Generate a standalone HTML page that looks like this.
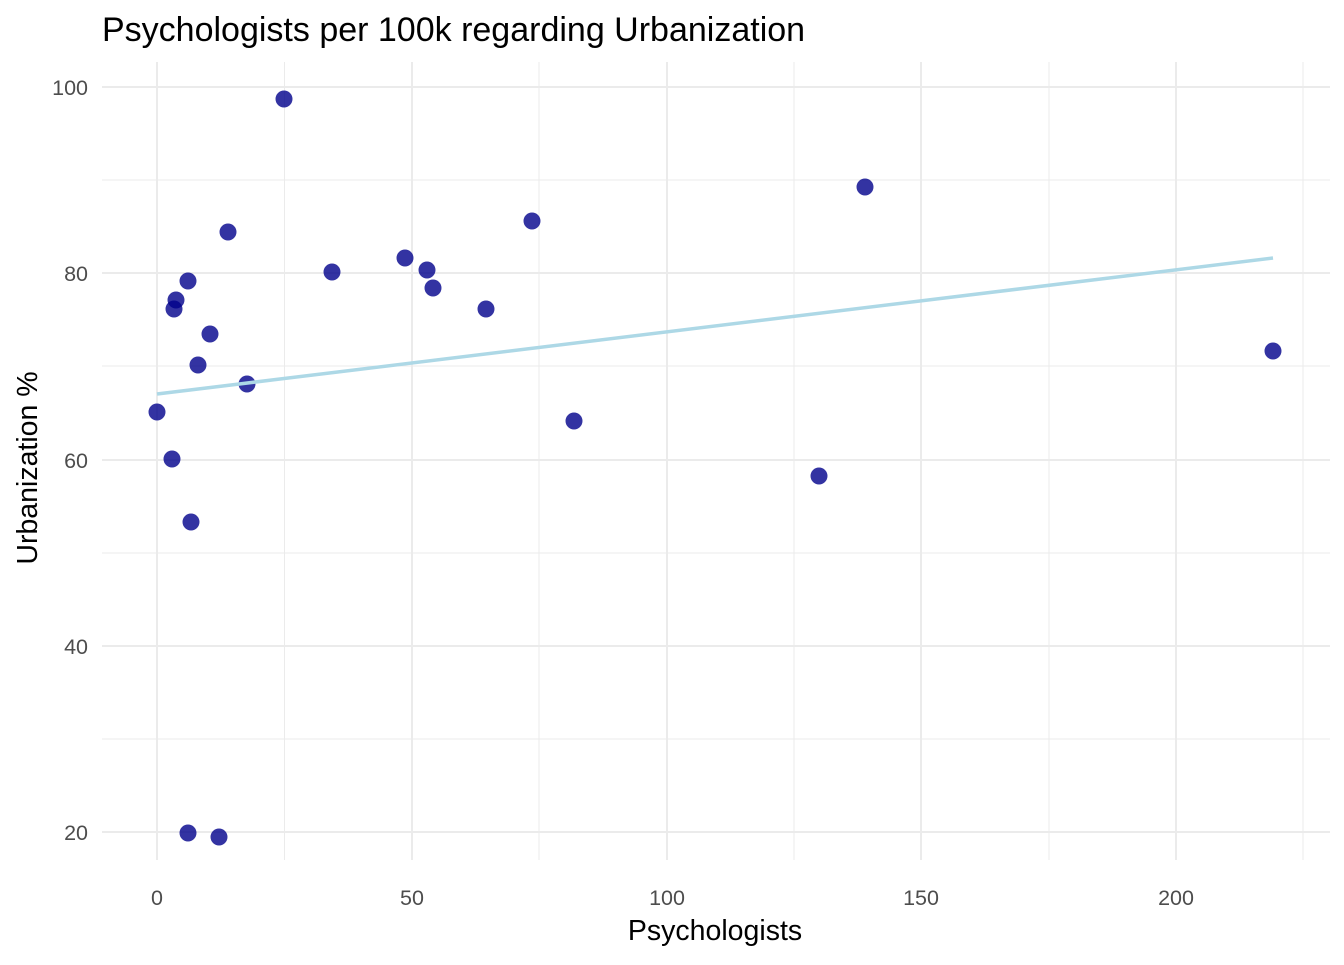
<!DOCTYPE html>
<html><head><meta charset="utf-8"><style>body{margin:0;background:#fff}</style></head><body>
<svg width="1344" height="960" xmlns="http://www.w3.org/2000/svg" font-family="Liberation Sans, sans-serif">
<rect width="1344" height="960" fill="#fff"/>
<g stroke="#ebebeb" stroke-width="1">
<line x1="284.5" y1="62" x2="284.5" y2="860"/><line x1="539" y1="62" x2="539" y2="860"/><line x1="794" y1="62" x2="794" y2="860"/><line x1="1049" y1="62" x2="1049" y2="860"/><line x1="1303" y1="62" x2="1303" y2="860"/>
<line x1="102" y1="180" x2="1330" y2="180"/><line x1="102" y1="366" x2="1330" y2="366"/><line x1="102" y1="553" x2="1330" y2="553"/><line x1="102" y1="739" x2="1330" y2="739"/>
</g>
<g stroke="#ebebeb" stroke-width="2">
<line x1="157" y1="62" x2="157" y2="860"/><line x1="412" y1="62" x2="412" y2="860"/><line x1="667" y1="62" x2="667" y2="860"/><line x1="921" y1="62" x2="921" y2="860"/><line x1="1176" y1="62" x2="1176" y2="860"/>
<line x1="102" y1="87" x2="1330" y2="87"/><line x1="102" y1="273" x2="1330" y2="273"/><line x1="102" y1="460" x2="1330" y2="460"/><line x1="102" y1="646" x2="1330" y2="646"/><line x1="102" y1="832" x2="1330" y2="832"/>
</g>
<g fill="#00008b" fill-opacity="0.8">
<circle cx="284" cy="99" r="8.5"/><circle cx="865" cy="187" r="8.5"/><circle cx="532" cy="221" r="8.5"/><circle cx="228" cy="232" r="8.5"/>
<circle cx="405" cy="258" r="8.5"/><circle cx="427" cy="270" r="8.5"/><circle cx="332" cy="272" r="8.5"/><circle cx="188" cy="281" r="8.5"/>
<circle cx="433" cy="288" r="8.5"/><circle cx="176" cy="300" r="8.5"/><circle cx="174" cy="309" r="8.5"/><circle cx="486" cy="309" r="8.5"/>
<circle cx="210" cy="334" r="8.5"/><circle cx="1273" cy="351" r="8.5"/><circle cx="198" cy="365" r="8.5"/><circle cx="247" cy="384" r="8.5"/>
<circle cx="157" cy="412" r="8.5"/><circle cx="574" cy="421" r="8.5"/><circle cx="172" cy="459" r="8.5"/><circle cx="819" cy="476" r="8.5"/>
<circle cx="191" cy="522" r="8.5"/><circle cx="188" cy="833" r="8.5"/><circle cx="219" cy="837" r="8.5"/>
</g>
<line x1="157" y1="394" x2="1273" y2="258" stroke="#add8e6" stroke-width="3.5"/>
<g fill="#4d4d4d" font-size="21.5" text-anchor="end">
<text x="88" y="95">100</text><text x="88" y="281">80</text><text x="88" y="468">60</text><text x="88" y="654">40</text><text x="88" y="840">20</text>
</g>
<g fill="#4d4d4d" font-size="21.5" text-anchor="middle">
<text x="157" y="905">0</text><text x="412" y="905">50</text><text x="667" y="905">100</text><text x="921" y="905">150</text><text x="1176" y="905">200</text>
</g>
<text x="715" y="940" font-size="28.5" text-anchor="middle">Psychologists</text>
<text transform="translate(37,468) rotate(-90)" font-size="28.5" text-anchor="middle">Urbanization %</text>
<text x="102" y="41" font-size="34">Psychologists per 100k regarding Urbanization</text>
</svg>
</body></html>
